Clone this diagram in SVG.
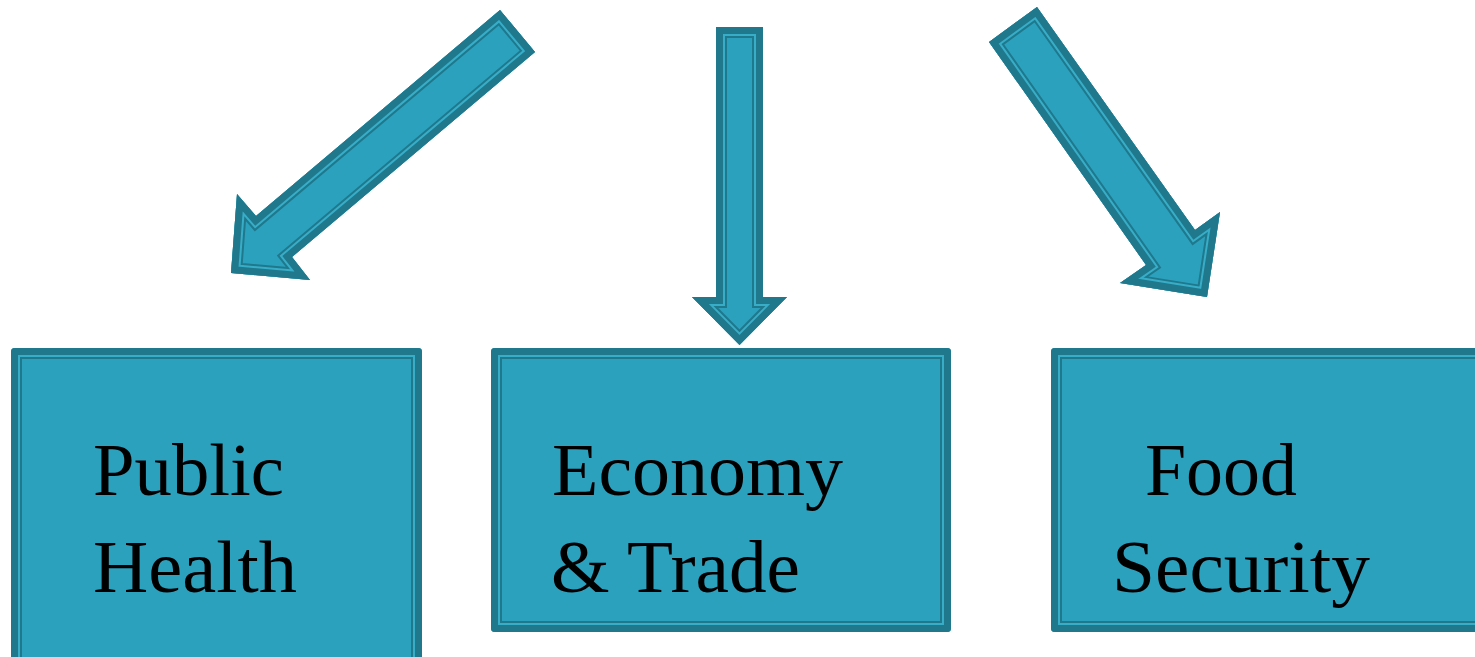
<svg xmlns="http://www.w3.org/2000/svg" xmlns:xlink="http://www.w3.org/1999/xlink" width="1475" height="657" viewBox="0 0 1475 657">
<style>
.fill{fill:#2BA1BE;stroke:none}
.b1{fill:none;stroke:#1F788C;stroke-width:22;stroke-miterlimit:30;stroke-linejoin:miter}
.b2{fill:none;stroke:#38ADC8;stroke-width:18;stroke-miterlimit:30;stroke-linejoin:miter}
.b3{fill:none;stroke:#1F788C;stroke-width:14;stroke-miterlimit:30;stroke-linejoin:miter}
.lbl{font-family:"Liberation Serif","Times New Roman",serif;font-size:75px;fill:#000}
</style>
<defs>
<rect id="s-ph" x="11" y="348" width="411" height="360" rx="4"/>
<rect id="s-et" x="491" y="348" width="460" height="284" rx="4"/>
<rect id="s-fs" x="1051" y="348" width="460" height="284" rx="4"/>
<polygon id="a-l" points="500,10 535,52 292,257 310,280 231,273 237,194 256,216"/>
<polygon id="a-m" points="716,27 763,27 763,297 787,297 739.5,345 692,297 716,297"/>
<polygon id="a-r" points="989,42 1037,7 1195,230 1220,212 1207,297 1120,283 1146,265"/>
<clipPath id="c-ph"><use xlink:href="#s-ph"/></clipPath>
<clipPath id="c-et"><use xlink:href="#s-et"/></clipPath>
<clipPath id="c-fs"><use xlink:href="#s-fs"/></clipPath>
<clipPath id="c-al"><use xlink:href="#a-l"/></clipPath>
<clipPath id="c-am"><use xlink:href="#a-m"/></clipPath>
<clipPath id="c-ar"><use xlink:href="#a-r"/></clipPath>
</defs>
<rect width="1475" height="657" fill="#FFFFFF"/>
<g id="connectors">
<g id="arrow-left" clip-path="url(#c-al)">
<use xlink:href="#a-l" class="fill"/><use xlink:href="#a-l" class="b1"/><use xlink:href="#a-l" class="b2"/><use xlink:href="#a-l" class="b3"/>
</g>
<g id="arrow-middle" clip-path="url(#c-am)">
<use xlink:href="#a-m" class="fill"/><use xlink:href="#a-m" class="b1"/><use xlink:href="#a-m" class="b2"/><use xlink:href="#a-m" class="b3"/>
</g>
<g id="arrow-right" clip-path="url(#c-ar)">
<use xlink:href="#a-r" class="fill"/><use xlink:href="#a-r" class="b1"/><use xlink:href="#a-r" class="b2"/><use xlink:href="#a-r" class="b3"/>
</g>
</g>
<g id="node-public-health">
<g clip-path="url(#c-ph)">
<use xlink:href="#s-ph" class="fill"/><use xlink:href="#s-ph" class="b1"/><use xlink:href="#s-ph" class="b2"/><use xlink:href="#s-ph" class="b3"/>
</g>
<text class="lbl" x="93" y="495" textLength="191" lengthAdjust="spacingAndGlyphs">Public</text>
<text class="lbl" x="93" y="592" textLength="204" lengthAdjust="spacingAndGlyphs">Health</text>
</g>
<g id="node-economy-trade">
<g clip-path="url(#c-et)">
<use xlink:href="#s-et" class="fill"/><use xlink:href="#s-et" class="b1"/><use xlink:href="#s-et" class="b2"/><use xlink:href="#s-et" class="b3"/>
</g>
<text class="lbl" x="552" y="495" textLength="291" lengthAdjust="spacingAndGlyphs">Economy</text>
<text class="lbl" x="551" y="592" textLength="249" lengthAdjust="spacingAndGlyphs">&amp; Trade</text>
</g>
<g id="node-food-security">
<g clip-path="url(#c-fs)">
<use xlink:href="#s-fs" class="fill"/><use xlink:href="#s-fs" class="b1"/><use xlink:href="#s-fs" class="b2"/><use xlink:href="#s-fs" class="b3"/>
</g>
<text class="lbl" x="1145" y="495" textLength="152" lengthAdjust="spacingAndGlyphs">Food</text>
<text class="lbl" x="1112" y="592" textLength="258" lengthAdjust="spacingAndGlyphs">Security</text>
</g>
</svg>
